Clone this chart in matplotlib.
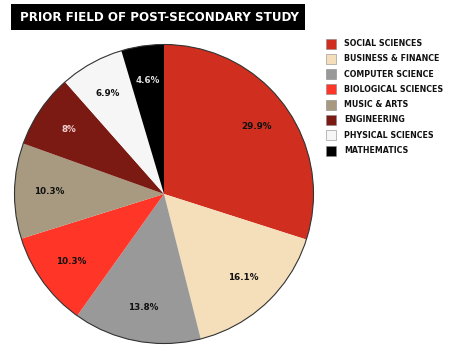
import matplotlib
matplotlib.use("Agg")
import matplotlib.pyplot as plt
from matplotlib.patches import Rectangle

categories = ["SOCIAL SCIENCES", "BUSINESS & FINANCE", "COMPUTER SCIENCE",
              "BIOLOGICAL SCIENCES", "MUSIC & ARTS", "ENGINEERING",
              "PHYSICAL SCIENCES", "MATHEMATICS"]
values = [29.9, 16.1, 13.8, 10.3, 10.3, 8.0, 6.9, 4.6]
labels = ["29.9%", "16.1%", "13.8%", "10.3%", "10.3%", "8%", "6.9%", "4.6%"]
colors = ["#D02F1F", "#F5DFBB", "#999999", "#FF3527", "#A89A80",
          "#7A1A13", "#F6F6F6", "#000000"]
label_colors = ["#111111", "#111111", "#111111", "#111111", "#111111",
                "#F0D0D0", "#111111", "#DDDDDD"]

plt.rcParams['font.family'] = ['DejaVu Sans']
fig = plt.figure(figsize=(4.49, 3.56), dpi=100)

ax = fig.add_axes([13/449, 11/356, 302/449, 302/356])
wedges, texts = ax.pie(values, colors=colors, startangle=90, counterclock=False,
                       labels=labels, labeldistance=0.77,
                       wedgeprops=dict(linewidth=0))
for t, c in zip(texts, label_colors):
    t.set_color(c)
    t.set_fontsize(6.3)
    t.set_fontweight('bold')
    t.set_ha('center')
    t.set_va('center')
# outline circle
from matplotlib.patches import Circle
ax.add_patch(Circle((0, 0), 1.0, fill=False, edgecolor="#333333", linewidth=0.8))
ax.set_xlim(-1.01, 1.01)
ax.set_ylim(-1.01, 1.01)
ax.set_aspect('equal')
ax.axis('off')

# title box
fig.patches.append(Rectangle((11/449, 1 - 30/356), 294/449, 26/356,
                             transform=fig.transFigure, facecolor='black',
                             edgecolor='none', zorder=0))
fig.text(160/449, 1 - 17.5/356, "PRIOR FIELD OF POST-SECONDARY STUDY",
         color='white', fontsize=8.6, fontweight='bold', ha='center', va='center')

# legend
y0 = 43.5
dy = 15.3
for i, (cat, col) in enumerate(zip(categories, colors)):
    y = y0 + i * dy
    fig.patches.append(Rectangle((326/449, 1 - (y + 5)/356), 10/449, 10/356,
                                 transform=fig.transFigure, facecolor=col,
                                 edgecolor='#888888', linewidth=0.4))
    fig.text(344/449, 1 - y/356, cat, fontsize=5.7, fontweight='bold',
             color='#111111', ha='left', va='center')

fig.savefig("out.png", dpi=100)
